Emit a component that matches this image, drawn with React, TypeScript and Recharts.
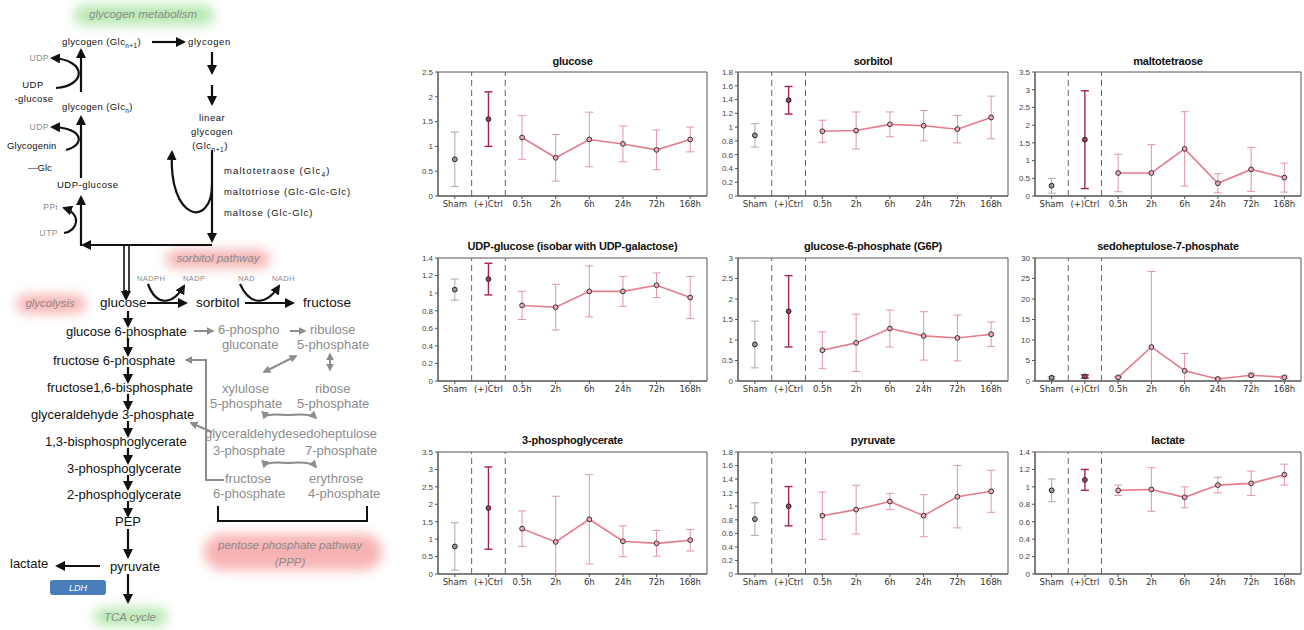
import React from 'react';
import { ComposedChart, Line, XAxis, YAxis, ErrorBar, ReferenceLine, ReferenceArea } from 'recharts';

// ---------- chart data ----------
const CATEGORIES = ['Sham', '(+)Ctrl', '0.5h', '2h', '6h', '24h', '72h', '168h'];
const CAT_POS = [1, 2, 3, 4, 5, 6, 7, 8];

const TICKS_05_25 = [0, 0.5, 1, 1.5, 2, 2.5];
const TICKS_05_30 = [0, 0.5, 1, 1.5, 2, 2.5, 3];
const TICKS_05_35 = [0, 0.5, 1, 1.5, 2, 2.5, 3, 3.5];
const TICKS_02_14 = [0, 0.2, 0.4, 0.6, 0.8, 1, 1.2, 1.4];
const TICKS_02_18 = [0, 0.2, 0.4, 0.6, 0.8, 1, 1.2, 1.4, 1.6, 1.8];
const TICKS_5_30 = [0, 5, 10, 15, 20, 25, 30];

const glucoseMean = [0.74, 1.55, 1.18, 0.77, 1.14, 1.05, 0.93, 1.14];
const glucoseSd = [0.55, 0.55, 0.44, 0.47, 0.55, 0.36, 0.40, 0.25];

const sorbitolMean = [0.88, 1.39, 0.94, 0.95, 1.04, 1.02, 0.97, 1.14];
const sorbitolSd = [0.17, 0.20, 0.16, 0.27, 0.18, 0.22, 0.20, 0.31];

const maltotetraoseMean = [0.29, 1.59, 0.65, 0.65, 1.33, 0.36, 0.75, 0.52];
const maltotetraoseSd = [0.21, 1.38, 0.53, 0.80, 1.05, 0.27, 0.62, 0.41];

const udpGlucoseMean = [1.04, 1.16, 0.86, 0.84, 1.02, 1.02, 1.09, 0.95];
const udpGlucoseSd = [0.12, 0.18, 0.16, 0.26, 0.29, 0.17, 0.14, 0.24];

const g6pMean = [0.89, 1.70, 0.75, 0.93, 1.28, 1.10, 1.05, 1.14];
const g6pSd = [0.57, 0.87, 0.45, 0.70, 0.45, 0.59, 0.56, 0.30];

const s7pMean = [0.8, 1.1, 0.9, 8.3, 2.5, 0.5, 1.4, 0.9];
const s7pSd = [0.3, 0.4, 0.2, 18.4, 4.2, 0.3, 0.5, 0.3];

const pgaMean = [0.79, 1.89, 1.30, 0.92, 1.57, 0.94, 0.88, 0.97];
const pgaSd = [0.68, 1.18, 0.51, 1.31, 1.28, 0.44, 0.37, 0.31];

const pyruvateMean = [0.81, 1.00, 0.86, 0.95, 1.07, 0.86, 1.14, 1.22];
const pyruvateSd = [0.24, 0.29, 0.35, 0.36, 0.12, 0.31, 0.46, 0.31];

const lactateMean = [0.96, 1.08, 0.96, 0.97, 0.88, 1.02, 1.04, 1.14];
const lactateSd = [0.13, 0.12, 0.06, 0.25, 0.12, 0.09, 0.14, 0.12];

const PANELS = [
  { title: 'glucose', mean: glucoseMean, sd: glucoseSd, ticks: TICKS_05_25, col: 0, row: 0 },
  { title: 'sorbitol', mean: sorbitolMean, sd: sorbitolSd, ticks: TICKS_02_18, col: 1, row: 0 },
  { title: 'maltotetraose', mean: maltotetraoseMean, sd: maltotetraoseSd, ticks: TICKS_05_35, col: 2, row: 0 },
  { title: 'UDP-glucose (isobar with UDP-galactose)', mean: udpGlucoseMean, sd: udpGlucoseSd, ticks: TICKS_02_14, col: 0, row: 1 },
  { title: 'glucose-6-phosphate (G6P)', mean: g6pMean, sd: g6pSd, ticks: TICKS_05_30, col: 1, row: 1 },
  { title: 'sedoheptulose-7-phosphate', mean: s7pMean, sd: s7pSd, ticks: TICKS_5_30, col: 2, row: 1 },
  { title: '3-phosphoglycerate', mean: pgaMean, sd: pgaSd, ticks: TICKS_05_35, col: 0, row: 2 },
  { title: 'pyruvate', mean: pyruvateMean, sd: pyruvateSd, ticks: TICKS_02_18, col: 1, row: 2 },
  { title: 'lactate', mean: lactateMean, sd: lactateSd, ticks: TICKS_02_14, col: 2, row: 2 },
];

// ---------- layout ----------
const COL_LEFT = [438, 738, 1035];
const COL_RIGHT = [707, 1008, 1301];
const ROW_TOP = [72, 258, 452];
const ROW_BOTTOM = [196, 381, 574];
const ROW_TITLE = [61, 246, 440];

const C_AXIS = '#555';
const C_LINE = '#e57b8c';
const C_TERR = '#e595a3';
const C_CERR = '#a5244d';
const C_SERR = '#a9a9a9';

function Panel({ title, mean, sd, ticks, col, row }: any) {
  const left = COL_LEFT[col];
  const right = COL_RIGHT[col];
  const top = ROW_TOP[row];
  const bottom = ROW_BOTTOM[row];
  const yW = 30, mR = 3, mT = 3, xH = 20;
  const width = right - left + yW + mR;
  const height = bottom - top + mT + xH;
  const max = ticks[ticks.length - 1];
  const pt = (i: number) => ({ x: CAT_POS[i], y: mean[i], e: [Math.min(sd[i], mean[i]), sd[i]] });
  const sham = [pt(0)];
  const ctrl = [pt(1)];
  const time = mean.slice(2).map((_: number, k: number) => pt(k + 2));
  const tickStyle = { fontSize: 8.5, fill: '#333', fontFamily: '"DejaVu Sans", Verdana, sans-serif' };
  return (
    <>
      <div
        style={{
          position: 'absolute',
          left,
          width: right - left,
          top: ROW_TITLE[row] - 7,
          textAlign: 'center',
          font: 'bold 11px "Liberation Sans", Arial, sans-serif',
          letterSpacing: -0.2,
          color: '#111',
          whiteSpace: 'nowrap',
          lineHeight: '14px',
        }}
      >
        {title}
      </div>
      <div style={{ position: 'absolute', left: left - yW, top: top - mT }}>
        <ComposedChart width={width} height={height} margin={{ top: mT, right: mR, left: 0, bottom: 0 }}>
          <XAxis
            type="number"
            dataKey="x"
            domain={[0.5, 8.5]}
            ticks={CAT_POS}
            interval={0}
            allowDataOverflow
            tickFormatter={(v: number) => CATEGORIES[v - 1]}
            height={xH}
            tickSize={3}
            tickMargin={2}
            tick={tickStyle}
            stroke={C_AXIS}
          />
          <YAxis
            type="number"
            domain={[0, max]}
            ticks={ticks}
            interval={0}
            allowDataOverflow
            width={yW}
            tickSize={3}
            tickMargin={2}
            tick={{ fontSize: 8, fill: '#444', fontFamily: '"Liberation Sans", Arial, sans-serif' }}
            stroke={C_AXIS}
          />
          <ReferenceArea x1={0.5} x2={8.5} y1={0} y2={max} fill="none" fillOpacity={0} stroke={C_AXIS} strokeWidth={1} />
          <ReferenceLine x={1.5} stroke="#666" strokeDasharray="6 4" strokeWidth={1} />
          <ReferenceLine x={2.5} stroke="#666" strokeDasharray="6 4" strokeWidth={1} />
          <Line
            data={time}
            dataKey="y"
            stroke={C_LINE}
            strokeWidth={1.6}
            dot={{ r: 2.4, fill: '#f3a9b5', stroke: '#333', strokeWidth: 1 }}
            isAnimationActive={false}
          >
            <ErrorBar dataKey="e" direction="y" width={4} stroke={C_TERR} strokeWidth={1} />
          </Line>
          <Line
            data={sham}
            dataKey="y"
            stroke="none"
            dot={{ r: 2.4, fill: '#9a9a9a', stroke: '#222', strokeWidth: 1 }}
            isAnimationActive={false}
          >
            <ErrorBar dataKey="e" direction="y" width={4} stroke={C_SERR} strokeWidth={1} />
          </Line>
          <Line
            data={ctrl}
            dataKey="y"
            stroke="none"
            dot={{ r: 2.4, fill: '#b3385a', stroke: '#222', strokeWidth: 1 }}
            isAnimationActive={false}
          >
            <ErrorBar dataKey="e" direction="y" width={4} stroke={C_CERR} strokeWidth={1.4} />
          </Line>
        </ComposedChart>
      </div>
    </>
  );
}

// ---------- pathway diagram (static illustration) ----------
const F = '"Liberation Sans", Arial, sans-serif';
const GREY = '#8c8c8c';

function T({ x, y, children, size = 10, fill = '#111', anchor = 'start', ls = 0, italic = false, weight = 'normal' }: any) {
  return (
    <text
      x={x}
      y={y}
      fontSize={size}
      fill={fill}
      textAnchor={anchor}
      fontFamily={F}
      letterSpacing={ls}
      fontStyle={italic ? 'italic' : 'normal'}
      fontWeight={weight}
    >
      {children}
    </text>
  );
}

function Sub({ children }: any) {
  return (
    <>
      <tspan fontSize={6.5} dy={2.5}>{children}</tspan>
      <tspan dy={-2.5}>{')'}</tspan>
    </>
  );
}

function Glow({ x, y, w, h, color }: any) {
  return <rect x={x} y={y} width={w} height={h} rx={h / 2} fill={color} opacity={0.75} filter="url(#blur)" />;
}

function Diagram() {
  const K = '#111';
  const blk = { stroke: K, strokeWidth: 2.2, fill: 'none', markerEnd: 'url(#ab)' } as any;
  const gry = { stroke: GREY, strokeWidth: 2, fill: 'none', markerEnd: 'url(#ag)' } as any;
  const downs = [
    [311, 326], [338, 355], [367, 382], [394, 409], [421, 436], [448, 463], [475, 489], [501, 516], [529, 557], [574, 602],
  ];
  return (
    <svg width={395} height={630} style={{ position: 'absolute', left: 0, top: 0 }}>
      <defs>
        <marker id="ab" viewBox="0 0 10 10" refX="8" refY="5" markerWidth="10" markerHeight="10" markerUnits="userSpaceOnUse" orient="auto-start-reverse">
          <path d="M0,0 L10,5 L0,10 z" fill={K} />
        </marker>
        <marker id="ag" viewBox="0 0 10 10" refX="8" refY="5" markerWidth="8" markerHeight="8" markerUnits="userSpaceOnUse" orient="auto-start-reverse">
          <path d="M0,0 L10,5 L0,10 z" fill={GREY} />
        </marker>
        <filter id="blur" x="-50%" y="-100%" width="200%" height="300%">
          <feGaussianBlur stdDeviation="6" />
        </filter>
      </defs>

      {/* glows */}
      <Glow x={74} y={5} w={140} h={20} color="#9fe096" />
      <Glow x={166} y={250} w={104} h={18} color="#f59a9a" />
      <Glow x={16} y={295} w={70} h={18} color="#f59a9a" />
      <Glow x={204} y={534} w={178} h={36} color="#f59a9a" />
      <Glow x={94} y={608} w={74} h={18} color="#9fe096" />

      <T x={143} y={18} size={11.5} fill={GREY} anchor="middle" italic>glycogen metabolism</T>
      <T x={218} y={262} size={11.5} fill={GREY} anchor="middle" italic>sorbitol pathway</T>
      <T x={50} y={307} size={11.5} fill={GREY} anchor="middle" italic>glycolysis</T>
      <T x={290} y={549} size={11.5} fill={GREY} anchor="middle" italic>pentose phosphate pathway</T>
      <T x={290} y={566} size={11.5} fill={GREY} anchor="middle" italic>(PPP)</T>
      <T x={130} y={621} size={11.5} fill={GREY} anchor="middle" italic>TCA cycle</T>

      {/* glycogen part */}
      <T x={62} y={45} size={9.5} ls={0.4}>glycogen (Glc<Sub>n+1</Sub></T>
      <T x={188} y={45} size={9.5} ls={0.6}>glycogen</T>
      <path d="M152,42 H184" {...blk} />
      <path d="M212,52 V73" {...blk} />
      <path d="M212,85 V104" {...blk} />
      <T x={212} y={121} size={9.5} anchor="middle" ls={0.5}>linear</T>
      <T x={212} y={135} size={9.5} anchor="middle" ls={0.5}>glycogen</T>
      <T x={210} y={149} size={9.5} anchor="middle" ls={0.5}>(Glc<Sub>n+1</Sub></T>
      <path d="M212,150 V241" {...blk} />
      <path d="M212,245 H83" {...blk} />
      <path d="M81,246 V197" {...blk} />
      <path d="M124,245 V293 M129,245 V293" stroke={K} strokeWidth={1.6} fill="none" />
      <path d="M126,290 V299" {...blk} />

      <T x={224} y={174} size={9.5} ls={1.1}>maltotetraose (Glc<Sub>4</Sub></T>
      <T x={224} y={195} size={9.5} ls={0.9}>maltotriose (Glc-Glc-Glc)</T>
      <T x={224} y={216} size={9.5} ls={0.9}>maltose (Glc-Glc)</T>
      <path d="M212,185 C212,228 168,222 172,152" {...blk} />

      <T x={62} y={110} size={9.5} ls={0.4}>glycogen (Glc<Sub>n</Sub></T>
      <T x={57} y={188} size={9.5} ls={0.5}>UDP-glucose</T>
      <path d="M81,178 V117" {...blk} />
      <path d="M81,92 V50" {...blk} />

      <T x={49} y={61} size={8.5} fill={GREY} anchor="end" ls={0.5}>UDP</T>
      <T x={33} y={88} size={9.5} anchor="middle" ls={0.5}>UDP</T>
      <T x={34} y={102} size={9.5} anchor="middle" ls={0.4}>-glucose</T>
      <path d="M56,88 C86,86 88,60 52,58" {...blk} />

      <T x={49} y={130} size={8.5} fill={GREY} anchor="end" ls={0.5}>UDP</T>
      <T x={7} y={149} size={9.5} ls={0.2}>Glycogenin</T>
      <T x={28} y={171} size={9.5}>—Glc</T>
      <path d="M66,150 C84,146 86,128 52,127" {...blk} />

      <T x={58} y={210} size={8.5} fill={GREY} anchor="end" ls={0.5}>PPi</T>
      <T x={58} y={236} size={8.5} fill={GREY} anchor="end" ls={0.5}>UTP</T>
      <path d="M64,233 C78,231 82,214 64,208" {...blk} />

      {/* sorbitol */}
      <T x={137} y={281} size={7.5} fill={GREY} ls={0.4}>NADPH</T>
      <T x={183} y={281} size={7.5} fill={GREY} ls={0.4}>NADP</T>
      <T x={238} y={281} size={7.5} fill={GREY} ls={0.4}>NAD</T>
      <T x={272} y={281} size={7.5} fill={GREY} ls={0.4}>NADH</T>
      <T x={100} y={307} size={13.5}>glucose</T>
      <T x={196} y={307} size={13.5}>sorbitol</T>
      <T x={303} y={307} size={13.5}>fructose</T>
      <path d="M147,303 H186" {...blk} />
      <path d="M245,303 H293" {...blk} />
      <path d="M148,284 C156,306 172,306 184,286" {...blk} />
      <path d="M240,284 C250,306 266,306 279,286" {...blk} />

      {/* glycolysis */}
      <T x={66} y={336} size={13}>glucose 6-phosphate</T>
      <T x={53} y={365} size={13}>fructose 6-phosphate</T>
      <T x={47} y={392} size={13}>fructose1,6-bisphosphate</T>
      <T x={31} y={419} size={13}>glyceraldehyde 3-phosphate</T>
      <T x={45} y={446} size={13}>1,3-bisphosphoglycerate</T>
      <T x={67} y={473} size={13}>3-phosphoglycerate</T>
      <T x={67} y={499} size={13}>2-phosphoglycerate</T>
      <T x={128} y={526} size={13} anchor="middle">PEP</T>
      <T x={110} y={571} size={13}>pyruvate</T>
      <T x={10} y={568} size={13}>lactate</T>
      {downs.map(([a, b], i) => (
        <path key={i} d={`M128,${a} V${b}`} {...blk} />
      ))}
      <path d="M100,566 H57" {...blk} />
      <rect x={50} y={580} width={56} height={15} rx={3} fill="#4a7ebb" />
      <T x={78} y={591} size={9} fill="#fff" anchor="middle" italic>LDH</T>

      {/* pentose phosphate pathway */}
      <T x={218} y={334} size={13} fill={GREY}>6-phospho</T>
      <T x={222} y={349} size={13} fill={GREY}>gluconate</T>
      <T x={310} y={334} size={13} fill={GREY}>ribulose</T>
      <T x={297} y={349} size={13} fill={GREY}>5-phosphate</T>
      <T x={222} y={393} size={13} fill={GREY}>xylulose</T>
      <T x={210} y={408} size={13} fill={GREY}>5-phosphate</T>
      <T x={315} y={393} size={13} fill={GREY}>ribose</T>
      <T x={297} y={408} size={13} fill={GREY}>5-phosphate</T>
      <T x={205} y={438} size={13} fill={GREY}>glyceraldehydesedoheptulose</T>
      <T x={213} y={455} size={13} fill={GREY}>3-phosphate</T>
      <T x={305} y={455} size={13} fill={GREY}>7-phosphate</T>
      <T x={225} y={483} size={13} fill={GREY}>fructose</T>
      <T x={309} y={483} size={13} fill={GREY}>erythrose</T>
      <T x={213} y={498} size={13} fill={GREY}>6-phosphate</T>
      <T x={308} y={498} size={13} fill={GREY}>4-phosphate</T>
      <path d="M194,331 H213" {...gry} />
      <path d="M290,331 H305" {...gry} />
      <path d="M264,372 L296,356" {...gry} markerStart="url(#ag)" />
      <path d="M330,354 V370" {...gry} markerStart="url(#ag)" />
      <path d="M264,418 Q265,413 288,415 Q311,413 316,418" {...gry} markerStart="url(#ag)" />
      <path d="M264,467 Q265,461 288,463 Q311,461 316,467" {...gry} markerStart="url(#ag)" />
      <path d="M224,480 H206 V360 H186" {...gry} />
      <path d="M212,432 L191,423" {...gry} />
      <path d="M218,506 V521 H367 V506" stroke={K} strokeWidth={2} fill="none" />
    </svg>
  );
}

export default function App() {
  return (
    <div style={{ position: 'absolute', left: 0, top: 0, width: 1304, height: 630, background: '#fff', overflow: 'hidden' }}>
      <Diagram />
      {PANELS.map((p) => (
        <Panel key={p.title} {...p} />
      ))}
    </div>
  );
}
